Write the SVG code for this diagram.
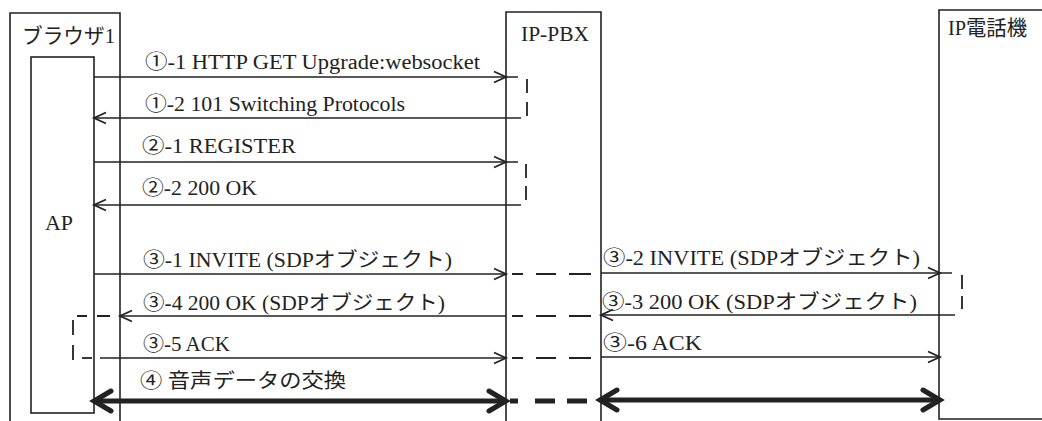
<svg xmlns="http://www.w3.org/2000/svg" xmlns:xlink="http://www.w3.org/1999/xlink" width="1042" height="421" viewBox="0 0 1042 421">
  <style>
    .box { fill: none; stroke: #222; stroke-width: 1.6; }
    .ln { fill: none; stroke: #222; stroke-width: 1.6; }
    .dash { fill: none; stroke: #222; stroke-width: 1.8; }
    .thick { fill: none; stroke: #222; stroke-width: 5; }
    .head { fill: none; stroke: #222; stroke-width: 1.8; stroke-linejoin: miter; }
    .bighead { fill: none; stroke: #222; stroke-width: 5; stroke-linejoin: miter; stroke-linecap: round; }
    text { font-family: "Liberation Serif", "Noto Sans CJK JP", serif; fill: #222; }
    .lbl { font-size: 20px; }
    .name { font-size: 21px; }
  </style>
  <defs>
    <!-- open chevron, tip at origin, pointing right -->
    <path id="head" class="head" d="M-12,-5.5 L0,0 L-12,5.5"/>
    <path id="bighead" class="bighead" d="M-17,-10 L0,0 L-17,10"/>
  </defs>

  <rect width="1042" height="421" fill="#fff"/>

  <!-- lifelines / nodes -->
  <g id="browser">
    <path class="box" d="M10,421 V13 H120 V421"/>
    <text class="name" x="22" y="43" font-size="19" textLength="93" lengthAdjust="spacingAndGlyphs">ブラウザ1</text>
  </g>
  <g id="ap">
    <rect class="box" x="31" y="57" width="63" height="356"/>
    <text class="lbl" x="45" y="230" textLength="28" lengthAdjust="spacingAndGlyphs">AP</text>
  </g>
  <g id="ip-pbx">
    <path class="box" d="M506,421 V12 H601 V421"/>
    <text class="name" x="521" y="41" font-size="22" textLength="68" lengthAdjust="spacingAndGlyphs">IP-PBX</text>
  </g>
  <g id="ip-phone">
    <path class="box" d="M1043,10 H939 V419 H1043"/>
    <text class="name" x="948" y="35" textLength="79" lengthAdjust="spacingAndGlyphs">IP電話機</text>
  </g>

  <!-- messages -->
  <g id="connectors">
    <g id="m1-1">
      <line class="ln" x1="94" y1="77" x2="518" y2="77"/>
      <use xlink:href="#head" href="#head" transform="translate(506,77)"/>
      <text class="lbl" x="145" y="69" textLength="335" lengthAdjust="spacingAndGlyphs">①-1 HTTP GET Upgrade:websocket</text>
    </g>
    <line class="dash" x1="527" y1="79" x2="527" y2="116" stroke-dasharray="14 9"/>
    <g id="m1-2">
      <line class="ln" x1="521" y1="118" x2="94" y2="118"/>
      <use xlink:href="#head" href="#head" transform="translate(94,118) scale(-1,1)"/>
      <text class="lbl" x="145" y="111" textLength="260" lengthAdjust="spacingAndGlyphs">①-2 101 Switching Protocols</text>
    </g>

    <g id="m2-1">
      <line class="ln" x1="94" y1="162" x2="518" y2="162"/>
      <use xlink:href="#head" href="#head" transform="translate(506,162)"/>
      <text class="lbl" x="142" y="153" textLength="154" lengthAdjust="spacingAndGlyphs">②-1 REGISTER</text>
    </g>
    <line class="dash" x1="526" y1="164" x2="526" y2="201" stroke-dasharray="14 8"/>
    <g id="m2-2">
      <line class="ln" x1="521" y1="205" x2="94" y2="205"/>
      <use xlink:href="#head" href="#head" transform="translate(94,205) scale(-1,1)"/>
      <text class="lbl" x="142" y="195" textLength="115" lengthAdjust="spacingAndGlyphs">②-2 200 OK</text>
    </g>

    <g id="m3-1">
      <line class="ln" x1="94" y1="274" x2="506" y2="274"/>
      <use xlink:href="#head" href="#head" transform="translate(506,274)"/>
      <text class="lbl" x="143" y="267" textLength="309" lengthAdjust="spacingAndGlyphs">③-1 INVITE (SDPオブジェクト)</text>
    </g>
    <line class="dash" x1="512" y1="274" x2="594" y2="274" stroke-dasharray="11 13 20 13 22"/>
    <g id="m3-2">
      <line class="ln" x1="601" y1="273" x2="952" y2="273"/>
      <use xlink:href="#head" href="#head" transform="translate(940,273)"/>
      <text class="lbl" x="603" y="265" textLength="317" lengthAdjust="spacingAndGlyphs">③-2 INVITE (SDPオブジェクト)</text>
    </g>
    <line class="dash" x1="962" y1="275" x2="962" y2="309" stroke-dasharray="14 7"/>
    <g id="m3-3">
      <line class="ln" x1="955" y1="315" x2="601" y2="315"/>
      <use xlink:href="#head" href="#head" transform="translate(601,315) scale(-1,1)"/>
      <text class="lbl" x="602" y="309" textLength="315" lengthAdjust="spacingAndGlyphs">③-3 200 OK (SDPオブジェクト)</text>
    </g>
    <line class="dash" x1="512" y1="316" x2="594" y2="316" stroke-dasharray="11 13 20 13 22"/>
    <g id="m3-4">
      <line class="ln" x1="506" y1="316" x2="120" y2="316"/>
      <use xlink:href="#head" href="#head" transform="translate(120,316) scale(-1,1)"/>
      <text class="lbl" x="143" y="310" textLength="302" lengthAdjust="spacingAndGlyphs">③-4 200 OK (SDPオブジェクト)</text>
    </g>
    <!-- hand-off loop inside the browser -->
    <line class="dash" x1="110" y1="316" x2="77" y2="316" stroke-dasharray="13 10"/>
    <line class="dash" x1="73" y1="320" x2="73" y2="362" stroke-dasharray="15 10"/>
    <line class="dash" x1="82" y1="358" x2="92" y2="358"/>
    <g id="m3-5">
      <line class="ln" x1="100" y1="358" x2="506" y2="358"/>
      <use xlink:href="#head" href="#head" transform="translate(506,358)"/>
      <text class="lbl" x="143" y="351" textLength="87" lengthAdjust="spacingAndGlyphs">③-5 ACK</text>
    </g>
    <line class="dash" x1="512" y1="358" x2="594" y2="358" stroke-dasharray="11 13 20 13 22"/>
    <g id="m3-6">
      <line class="ln" x1="601" y1="357" x2="940" y2="357"/>
      <use xlink:href="#head" href="#head" transform="translate(940,357)"/>
      <text class="lbl" x="603" y="350" textLength="99" lengthAdjust="spacingAndGlyphs">③-6 ACK</text>
    </g>

    <g id="m4">
      <line class="thick" x1="97" y1="401" x2="503" y2="401"/>
      <use xlink:href="#bighead" href="#bighead" transform="translate(94,401) scale(-1,1)"/>
      <use xlink:href="#bighead" href="#bighead" transform="translate(506,401)"/>
      <line class="thick" x1="510" y1="401" x2="588" y2="401" stroke-dasharray="8 17 20 12 20"/>
      <line class="thick" x1="603" y1="400" x2="937" y2="400"/>
      <use xlink:href="#bighead" href="#bighead" transform="translate(600,400) scale(-1,1)"/>
      <use xlink:href="#bighead" href="#bighead" transform="translate(940,400)"/>
      <text class="lbl" x="140" y="388" textLength="206" lengthAdjust="spacingAndGlyphs">④ 音声データの交換</text>
    </g>
  </g>
</svg>
